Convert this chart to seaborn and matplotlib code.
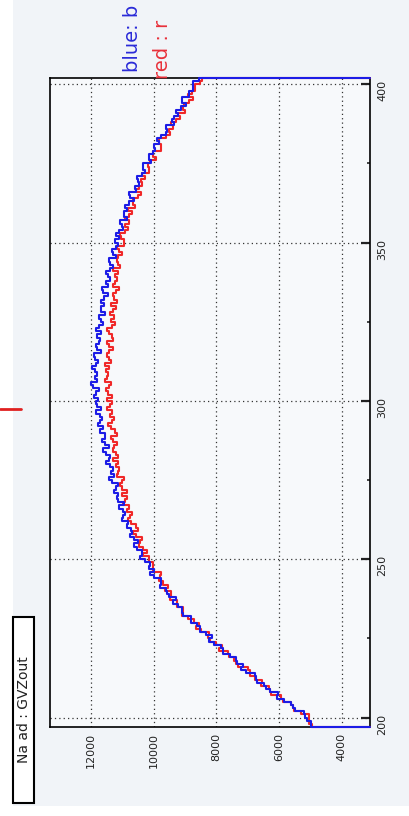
import numpy as np
import matplotlib
matplotlib.use("Agg")
import matplotlib.pyplot as plt
import seaborn as sns
from matplotlib.patches import Rectangle
from matplotlib.lines import Line2D
from matplotlib.ticker import MultipleLocator

# histogram contents, 1-unit bins starting at 197
first_edge = 197
blue = [4980, 4990, 5110,
        5170, 5210, 5500, 5570, 5630, 5830, 6070, 6040, 6300, 6430,
        6480, 6710, 6730, 6760, 7040, 7220, 7160, 7350, 7380, 7570,
        7780, 7780, 7840, 8070, 8220, 8130, 8340, 8510, 8520, 8600,
        8820, 8810, 9070, 9090, 9080, 9210, 9380, 9280, 9500, 9580,
        9590, 9780, 9760, 9750, 9980, 10100, 10000, 10140, 10110, 10260,
        10420, 10360, 10380, 10540, 10630, 10480, 10630, 10740, 10680, 10710,
        10860, 10800, 10990, 10960, 10900, 10980, 11100, 10950, 11120, 11160,
        11120, 11250, 11190, 11130, 11320, 11410, 11260, 11360, 11290, 11400,
        11520, 11420, 11400, 11530, 11610, 11430, 11560, 11640, 11560, 11560,
        11700, 11610, 11780, 11720, 11650, 11720, 11820, 11660, 11810, 11830,
        11780, 11900, 11820, 11740, 11920, 11980, 11810, 11880, 11790, 11860,
        11950, 11820, 11760, 11860, 11900, 11690, 11790, 11840, 11730, 11710,
        11810, 11690, 11820, 11730, 11620, 11670, 11750, 11550, 11680, 11670,
        11590, 11680, 11570, 11460, 11600, 11640, 11450, 11500, 11390, 11450,
        11520, 11380, 11300, 11390, 11410, 11190, 11280, 11310, 11190, 11140,
        11230, 11090, 11210, 11090, 10970, 11000, 11060, 10850, 10950, 10930,
        10830, 10900, 10770, 10630, 10750, 10770, 10560, 10590, 10450, 10490,
        10540, 10370, 10270, 10330, 10330, 10090, 10150, 10160, 10010, 9940,
        10000, 9820, 9900, 9750, 9590, 9580, 9600, 9350, 9420, 9360,
        9220, 9270, 9130, 8980, 9080, 9090, 8860, 8870, 8730, 8750,
        8730, 8560]
red = [4950, 5060, 5040,
       5050, 5310, 5520, 5540, 5620, 5880, 5950, 6250, 6280, 6330,
       6590, 6530, 6760, 6920, 6940, 6980, 7300, 7360, 7430, 7610,
       7640, 7920, 7830, 8020, 8200, 8260, 8240, 8490, 8650, 8550,
       8700, 8910, 9090, 9060, 9070, 9250, 9240, 9460, 9440, 9430,
       9640, 9530, 9710, 9820, 9780, 9750, 10020, 10020, 10020, 10150,
       10130, 10350, 10210, 10330, 10450, 10440, 10360, 10550, 10640, 10480,
       10560, 10720, 10820, 10740, 10700, 10840, 10780, 10960, 10900, 10850,
       11020, 10860, 11000, 11070, 11000, 10950, 11170, 11140, 11100, 11200,
       11130, 11300, 11120, 11200, 11300, 11260, 11150, 11300, 11360, 11170,
       11230, 11350, 11440, 11320, 11270, 11390, 11320, 11480, 11400, 11330,
       11490, 11320, 11450, 11500, 11420, 11340, 11550, 11490, 11440, 11500,
       11410, 11560, 11350, 11420, 11490, 11430, 11300, 11430, 11480, 11280,
       11310, 11410, 11470, 11330, 11240, 11350, 11270, 11400, 11300, 11210,
       11350, 11160, 11270, 11300, 11190, 11100, 11300, 11230, 11170, 11230,
       11130, 11280, 11060, 11120, 11180, 11120, 10990, 11110, 11150, 10930,
       10950, 11030, 11070, 10900, 10810, 10900, 10790, 10910, 10780, 10690,
       10800, 10580, 10660, 10650, 10510, 10390, 10560, 10460, 10360, 10400,
       10270, 10380, 10130, 10150, 10180, 10100, 9930, 10020, 10020, 9770,
       9770, 9810, 9810, 9610, 9470, 9520, 9370, 9450, 9290, 9150,
       9230, 8990, 9060, 9040, 8880, 8750, 8900, 8780, 8680, 8690,
       8520, 8470]

value_ticks = [4000, 6000, 8000, 10000, 12000]
bin_ticks = [200, 250, 300, 350, 400]
v_lo, v_hi = 3100, 13300

edges = np.arange(first_edge, first_edge + len(blue) + 1)


def step_path(vals):
    # ROOT-like outline: drop to the axis minimum at both ends
    xs = np.concatenate([[v_lo], np.repeat(vals, 2), [v_lo]])
    ys = np.concatenate([[edges[0]], np.repeat(edges, 2)[1:-1], [edges[-1]]])
    return xs, ys


sns.set_style("white")
fig = plt.figure(figsize=(4.09, 8.16), dpi=100)
fig.patch.set_facecolor("white")
fig.patches.append(Rectangle((13 / 409, 1 - 806 / 816), 1, 806 / 816,
                             transform=fig.transFigure, facecolor="#f1f4f8",
                             edgecolor="none", zorder=-5))

ax = fig.add_axes([50 / 409, 1 - 727 / 816, 320 / 409, 649 / 816])
ax.set_facecolor("#f7f9fb")

rx, ry = step_path(red)
bx, by = step_path(blue)
sns.lineplot(x=rx, y=ry, sort=False, estimator=None, color="#f02828", lw=1.5,
             clip_on=False, zorder=3, ax=ax)
sns.lineplot(x=bx, y=by, sort=False, estimator=None, color="#1c1ce6", lw=1.5,
             clip_on=False, zorder=3.1, ax=ax)

ax.set_xlim(v_hi, v_lo)
ax.set_ylim(edges[0], edges[-1])
ax.set_xticks(value_ticks)
ax.set_yticks(bin_ticks)
ax.xaxis.set_minor_locator(MultipleLocator(500))
ax.yaxis.set_minor_locator(MultipleLocator(25))
ax.yaxis.tick_right()
ax.tick_params(axis="x", which="major", direction="in", length=6, width=1,
               labelrotation=90, labelsize=8, pad=4, colors="#222222")
ax.tick_params(axis="x", which="minor", direction="in", length=3, width=0.8)
ax.tick_params(axis="y", which="major", direction="in", length=6.5, width=1.6,
               labelrotation=90, labelsize=8, pad=5, colors="#222222")
ax.tick_params(axis="y", which="minor", direction="in", length=2.5, width=1.2)
ax.set_xlabel("")
ax.set_ylabel("")
ax.grid(True, which="major", color="#333333", linestyle=(0, (1, 2.5)), linewidth=0.9)
for s in ax.spines.values():
    s.set_color("black")
    s.set_linewidth(1.2)

# text pieces around the frame
fig.text(132 / 409, 1 - 72 / 816, "blue: b", rotation=90, color="#2a2ad8",
         fontsize=14, ha="center", va="bottom")
fig.text(163 / 409, 1 - 79 / 816, "red : r", rotation=90, color="#e8303a",
         fontsize=14, ha="center", va="bottom")

fig.patches.append(Rectangle((13 / 409, 1 - 803 / 816), 21 / 409, 186 / 816,
                             transform=fig.transFigure, facecolor="white",
                             edgecolor="black", lw=1.5))
fig.text(24 / 409, 1 - 710 / 816, "Na ad : GVZout", rotation=90, fontsize=10,
         ha="center", va="center", color="#222222")

fig.lines.append(Line2D([0, 21 / 409], [1 - 409 / 816, 1 - 409 / 816],
                        transform=fig.transFigure, color="#e02020", lw=2))

fig.savefig("out.png", dpi=100)
